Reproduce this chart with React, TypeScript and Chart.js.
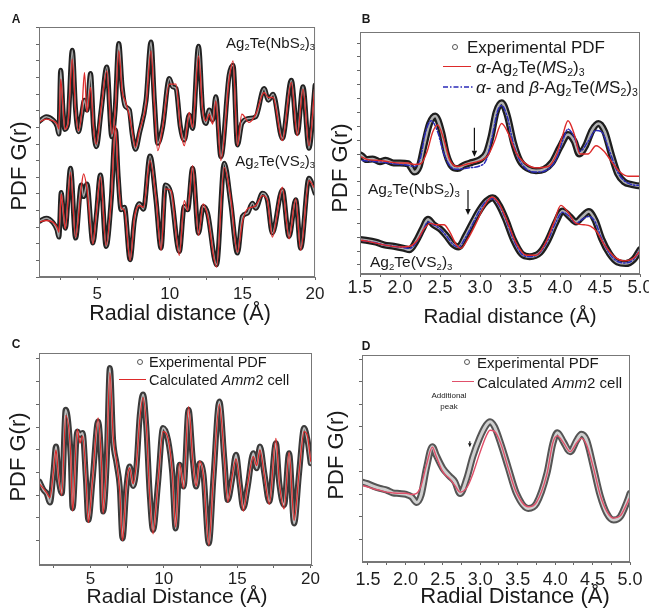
import React, { useEffect, useRef } from "react";
import { Chart, registerables } from "chart.js";

Chart.register(...registerables);

const FONT = '"Liberation Sans", Arial, Helvetica, sans-serif';
Chart.defaults.font.family = FONT;

// ---------------- Panel A (r in Å, G(r) in tick units) ----------------
const aTopR = [1.00, 1.50, 1.96, 2.24, 2.37, 2.49, 2.65, 2.78, 2.99, 3.29, 3.52, 3.72, 3.95, 4.13, 4.30, 4.55, 4.75, 4.94, 5.28, 5.67, 6.01, 6.24, 6.49, 6.72, 6.93, 7.22, 7.41, 7.64, 7.91, 8.37, 8.71, 8.94, 9.17, 9.51, 9.97, 10.20, 10.43, 10.73, 11.00, 11.34, 11.57, 11.98, 12.26, 12.49, 12.72, 12.95, 13.17, 13.52, 14.09, 14.36, 14.66, 14.96, 15.46, 15.92, 16.49, 16.79, 17.11, 17.75, 18.37, 18.78, 19.17, 19.58, 20.00];
const aTopExp = [9.34, 9.64, 9.44, 9.08, 8.60, 12.44, 10.04, 8.88, 9.24, 13.64, 10.04, 8.74, 9.84, 10.64, 10.04, 12.24, 9.04, 7.84, 10.04, 12.64, 8.44, 10.04, 14.04, 11.44, 10.28, 10.04, 8.64, 7.68, 8.64, 10.64, 14.14, 10.64, 8.04, 9.04, 11.94, 11.44, 11.34, 9.04, 8.24, 9.74, 8.94, 13.88, 10.04, 9.24, 10.04, 9.44, 10.84, 7.24, 12.14, 12.74, 7.94, 9.24, 9.54, 9.64, 11.34, 10.64, 11.00, 8.34, 11.84, 8.64, 11.44, 7.74, 11.54];
const aTopCalc = [9.3, 9.5, 9.4, 9.2, 8.9, 11.9, 10.3, 8.9, 9.2, 13.1, 10.0, 8.8, 10.0, 12.3, 9.9, 11.4, 9.0, 8.0, 10.2, 12.4, 8.6, 10.0, 13.6, 11.2, 10.6, 9.7, 8.8, 7.8, 8.8, 10.4, 13.6, 10.4, 7.6, 9.0, 11.6, 11.6, 11.6, 9.0, 7.9, 9.9, 9.0, 13.3, 10.1, 9.4, 9.8, 9.2, 10.6, 7.0, 11.9, 13.0, 7.9, 9.8, 9.3, 9.8, 11.1, 10.8, 10.8, 8.2, 11.7, 8.5, 11.3, 7.9, 11.6];

const aBotR = [1.00, 1.50, 1.96, 2.24, 2.37, 2.53, 2.67, 2.81, 3.17, 3.52, 3.91, 4.07, 4.30, 4.71, 4.94, 5.23, 5.62, 5.97, 6.26, 6.45, 6.65, 6.88, 7.27, 7.57, 7.91, 8.19, 8.64, 9.05, 9.40, 9.70, 10.08, 10.66, 11.00, 11.23, 11.57, 11.98, 12.30, 12.60, 13.22, 13.75, 14.20, 14.66, 15.00, 15.35, 15.69, 15.92, 16.38, 16.72, 17.06, 17.75, 18.21, 18.67, 19.01, 19.58, 20.00];
const aBotExp = [3.34, 3.54, 3.28, 2.84, 2.40, 5.08, 3.84, 2.94, 6.54, 2.34, 5.54, 4.84, 5.60, 2.04, 3.64, 6.14, 1.84, 4.64, 8.84, 6.04, 4.04, 4.20, 1.04, 3.44, 4.40, 4.08, 7.28, 4.64, 1.74, 5.54, 5.04, 1.54, 4.24, 4.04, 6.54, 2.64, 4.24, 3.84, 0.74, 6.84, 4.44, 1.44, 3.64, 3.84, 4.44, 4.14, 5.04, 4.64, 2.64, 5.24, 2.44, 4.64, 1.74, 5.94, 5.04];
const aBotCalc = [3.3, 3.4, 3.3, 3.0, 2.7, 5.0, 4.0, 2.9, 6.3, 2.4, 5.4, 6.2, 5.3, 2.0, 3.8, 6.0, 1.9, 4.7, 9.1, 6.2, 4.2, 4.0, 1.0, 3.6, 4.3, 4.2, 7.0, 4.8, 1.6, 5.3, 5.2, 1.3, 4.6, 4.0, 6.7, 2.5, 4.4, 3.7, 0.6, 6.6, 4.7, 1.5, 3.3, 4.1, 4.2, 4.3, 4.9, 4.6, 2.4, 5.4, 2.3, 4.7, 1.6, 5.8, 5.3];

const aXTicks = [2.5, 5, 7.5, 10, 12.5, 15, 17.5, 20];
const aXLabels = ["", "5", "", "10", "", "15", "", "20"];
const aYTicks = [0, 1, 2, 3, 4, 5, 6, 7, 8, 9, 10, 11, 12, 13, 14, 15];

// ---------------- Panel B ----------------
const bTopR = [1.40, 1.50, 1.58, 1.66, 1.75, 1.82, 1.92, 2.00, 2.10, 2.18, 2.24, 2.30, 2.37, 2.44, 2.52, 2.58, 2.65, 2.72, 2.80, 2.90, 3.00, 3.08, 3.14, 3.20, 3.27, 3.34, 3.42, 3.50, 3.60, 3.70, 3.80, 3.90, 4.00, 4.10, 4.18, 4.24, 4.32, 4.40, 4.48, 4.56, 4.64, 4.72, 4.80, 4.90, 5.00, 5.05];
const bTopExp = [7.8, 7.95, 7.6, 7.65, 7.45, 7.55, 7.35, 7.35, 7.3, 6.7, 7.1, 8.6, 10.2, 10.75, 9.6, 8.0, 7.1, 6.95, 7.2, 7.4, 7.6, 8.1, 9.3, 11.0, 11.7, 10.8, 8.8, 7.5, 6.95, 6.8, 6.9, 7.4, 8.5, 9.4, 8.9, 8.0, 8.6, 9.7, 10.2, 9.6, 8.0, 6.6, 6.0, 5.8, 5.7, 5.7];
const bTopCalcR = [1.40, 1.50, 1.60, 1.70, 1.80, 1.90, 2.00, 2.10, 2.18, 2.26, 2.34, 2.41, 2.47, 2.54, 2.62, 2.72, 2.85, 3.00, 3.10, 3.18, 3.27, 3.36, 3.45, 3.55, 3.70, 3.85, 3.95, 4.03, 4.10, 4.18, 4.25, 4.35, 4.45, 4.55, 4.65, 4.75, 4.85, 5.05];
const bTopCalc = [7.7, 7.8, 7.6, 7.55, 7.5, 7.4, 7.35, 7.35, 7.25, 7.3, 8.2, 9.6, 10.1, 9.2, 7.6, 7.1, 7.3, 7.5, 7.9, 8.9, 10.2, 9.4, 8.1, 7.4, 7.0, 7.1, 7.9, 9.3, 10.4, 9.4, 8.0, 8.0, 8.6, 8.2, 7.4, 6.7, 6.4, 6.4];
const bTopBothR = [1.40, 1.60, 1.80, 2.00, 2.10, 2.18, 2.25, 2.32, 2.39, 2.47, 2.55, 2.65, 2.72, 2.85, 3.00, 3.08, 3.15, 3.22, 3.27, 3.34, 3.42, 3.52, 3.70, 3.85, 3.95, 4.03, 4.10, 4.18, 4.25, 4.35, 4.45, 4.52, 4.62, 4.72, 4.85, 5.05];
const bTopBoth = [7.6, 7.5, 7.4, 7.25, 7.2, 7.1, 7.6, 9.6, 10.4, 9.6, 8.0, 7.0, 6.9, 7.0, 7.15, 7.6, 9.2, 11.1, 11.5, 10.7, 8.7, 7.3, 6.7, 6.9, 7.6, 8.9, 9.8, 9.2, 8.2, 8.9, 9.7, 9.6, 8.2, 6.7, 5.9, 5.7];

const bBotR = [1.40, 1.55, 1.70, 1.80, 1.92, 2.05, 2.12, 2.20, 2.28, 2.35, 2.42, 2.50, 2.58, 2.66, 2.73, 2.82, 2.92, 3.00, 3.08, 3.16, 3.24, 3.32, 3.42, 3.52, 3.62, 3.75, 3.85, 3.95, 4.03, 4.12, 4.20, 4.28, 4.36, 4.44, 4.52, 4.62, 4.72, 4.82, 4.92, 5.00, 5.05];
const bBotExp = [1.9, 1.8, 1.65, 1.45, 1.35, 1.2, 1.1, 1.7, 2.6, 3.3, 2.9, 2.6, 2.1, 1.5, 1.3, 2.1, 3.2, 4.0, 4.6, 4.85, 4.3, 3.3, 1.8, 0.8, 0.6, 0.9, 1.8, 3.1, 3.9, 3.5, 3.1, 3.5, 3.85, 3.2, 1.9, 0.8, 0.2, 0.1, 0.4, 1.1, 1.5];
const bBotBoth = [1.85, 1.75, 1.6, 1.45, 1.35, 1.25, 1.2, 1.6, 2.4, 3.1, 2.9, 2.6, 2.1, 1.5, 1.3, 2.0, 3.1, 4.0, 4.6, 4.8, 4.3, 3.3, 1.8, 0.8, 0.6, 0.9, 1.8, 3.1, 3.8, 3.5, 3.0, 3.3, 3.5, 3.1, 1.9, 0.8, 0.25, 0.15, 0.4, 1.1, 1.5];
const bBotCalcR = [1.40, 1.60, 1.80, 2.00, 2.12, 2.22, 2.30, 2.38, 2.46, 2.55, 2.62, 2.70, 2.76, 2.85, 2.95, 3.05, 3.15, 3.24, 3.35, 3.45, 3.58, 3.70, 3.82, 3.92, 4.01, 4.10, 4.20, 4.30, 4.38, 4.46, 4.55, 4.68, 4.80, 4.92, 5.05];
const bBotCalc = [1.85, 1.7, 1.45, 1.3, 1.35, 1.8, 2.6, 3.0, 2.9, 2.9, 2.4, 1.5, 1.2, 1.9, 3.0, 4.2, 4.9, 4.4, 3.0, 1.6, 0.7, 0.7, 1.6, 3.0, 4.3, 3.8, 3.0, 2.9, 2.8, 2.4, 1.5, 0.6, 0.3, 0.5, 1.4];

const bArrowR = [2.93, 2.85];
const bArrowFrom = [9.9, 5.4];
const bArrowTo = [7.8, 3.6];

const fineXTicks = [1.5, 1.75, 2.0, 2.25, 2.5, 2.75, 3.0, 3.25, 3.5, 3.75, 4.0, 4.25, 4.5, 4.75, 5.0];
const fineXLabels = ["1.5", "", "2.0", "", "2.5", "", "3.0", "", "3.5", "", "4.0", "", "4.5", "", "5.0"];
const bYTicks = [0, 1, 2, 3, 4, 5, 6, 7, 8, 9, 10, 11, 12, 13, 14, 15, 16];

// ---------------- Panel C ----------------
const cR = [1.53, 1.80, 2.03, 2.25, 2.48, 2.66, 2.82, 3.05, 3.32, 3.66, 3.79, 4.11, 4.29, 4.47, 4.70, 4.86, 5.15, 5.53, 5.76, 5.87, 6.10, 6.33, 6.55, 6.78, 7.00, 7.19, 7.46, 7.68, 7.91, 8.14, 8.36, 8.59, 8.81, 9.04, 9.27, 9.61, 9.95, 10.29, 10.58, 10.81, 11.08, 11.35, 11.69, 11.98, 12.21, 12.44, 12.71, 13.07, 13.39, 13.79, 14.13, 14.36, 14.65, 14.92, 15.20, 15.42, 15.72, 16.10, 16.33, 16.55, 16.85, 17.19, 17.64, 17.87, 18.20, 18.54, 18.88, 19.22, 19.56, 19.79, 20.01];
const cExp = [2.60, 2.24, 2.06, 1.68, 2.97, 4.15, 2.85, 2.09, 5.76, 3.71, 1.43, 4.81, 4.66, 4.74, 2.68, 0.91, 2.68, 5.25, 3.26, 1.28, 3.26, 7.60, 4.44, 3.41, 2.38, 0.10, 2.38, 3.26, 2.41, 3.26, 5.47, 6.43, 5.03, 2.09, 0.47, 2.53, 4.96, 4.44, 2.97, 0.54, 3.34, 2.38, 5.76, 3.56, 2.38, 3.41, 2.90, -0.12, 2.82, 6.13, 3.56, 1.79, 2.68, 3.78, 2.38, 1.43, 2.38, 3.85, 3.19, 4.15, 2.97, 1.72, 4.29, 2.53, 1.57, 3.85, 0.76, 2.97, 4.96, 4.44, 3.41];
const cCalc = [2.5, 2.3, 2.1, 1.9, 3.0, 4.0, 2.9, 2.0, 5.5, 3.8, 1.3, 4.9, 4.3, 4.6, 2.8, 0.8, 2.7, 5.4, 3.3, 1.2, 3.4, 7.4, 4.6, 3.5, 2.2, 0.0, 2.5, 3.2, 2.5, 3.4, 5.3, 6.3, 5.1, 2.0, 0.3, 2.6, 4.8, 4.5, 3.0, 0.6, 3.4, 2.3, 5.9, 3.5, 2.4, 3.5, 2.8, -0.2, 2.9, 6.0, 3.6, 1.7, 2.8, 3.6, 2.4, 1.3, 2.5, 3.7, 3.3, 4.0, 2.9, 1.6, 4.5, 2.6, 1.4, 3.9, 0.9, 3.0, 4.8, 4.6, 3.5];
const cXTicks = [2.5, 5, 7.5, 10, 12.5, 15, 17.5, 20];
const cXLabels = ["", "5", "", "10", "", "15", "", "20"];
const cdYTicks = [0, 1, 2, 3, 4, 5, 6, 7, 8];

// ---------------- Panel D ----------------
const dR = [1.41, 1.48, 1.57, 1.66, 1.75, 1.83, 1.92, 2.01, 2.08, 2.15, 2.21, 2.28, 2.36, 2.41, 2.50, 2.59, 2.66, 2.73, 2.82, 2.90, 2.99, 3.08, 3.13, 3.19, 3.28, 3.37, 3.48, 3.64, 3.75, 3.89, 3.97, 4.03, 4.11, 4.20, 4.29, 4.35, 4.42, 4.51, 4.60, 4.69, 4.78, 4.87, 4.96, 5.00];
const dExp = [2.56, 2.49, 2.37, 2.27, 2.19, 2.07, 2.04, 2.0, 1.90, 1.64, 1.97, 3.16, 4.12, 3.75, 3.16, 2.81, 2.56, 2.04, 2.71, 3.67, 4.49, 5.08, 5.23, 5.01, 4.19, 3.23, 2.07, 1.38, 1.60, 2.93, 4.27, 4.74, 4.34, 3.90, 4.41, 4.67, 4.41, 3.23, 1.97, 1.16, 0.86, 1.01, 1.67, 2.04];
const dCalc = [2.4, 2.35, 2.25, 2.18, 2.1, 2.07, 2.05, 2.05, 2.0, 2.05, 2.4, 3.3, 4.1, 3.7, 3.0, 2.7, 2.4, 2.1, 2.3, 2.9, 3.8, 4.6, 4.85, 4.8, 4.2, 3.2, 2.1, 1.45, 1.65, 2.9, 4.3, 4.6, 4.3, 3.9, 4.3, 4.5, 4.2, 3.2, 2.0, 1.25, 0.95, 1.05, 1.6, 1.9];
const dArrowR = [2.86];
const dArrowFrom = [4.36];
const dArrowTo = [4.1];

// ---------------------------------------------------------------------
const zip = (r: number[], g: number[]) => r.map((x, i) => ({ x, y: g[i] }));

function expBand(r: number[], g: number[], dark: string, light: string, wDark: number, wLight: number) {
  return [
    { data: zip(r, g), borderColor: dark, borderWidth: wDark, order: 5 },
    { data: zip(r, g), borderColor: light, borderWidth: wLight, order: 4 },
  ];
}

function framePlugin(color: string) {
  return {
    id: "frame",
    afterDraw(chart: any) {
      const { ctx, chartArea } = chart;
      ctx.save();
      ctx.strokeStyle = color;
      ctx.lineWidth = 1;
      ctx.strokeRect(chartArea.left + 0.5, chartArea.top + 0.5, chartArea.right - chartArea.left - 1, chartArea.bottom - chartArea.top - 1);
      ctx.restore();
    },
  };
}

function arrowPlugin(xs: number[], from: number[], to: number[], head: number) {
  return {
    id: "arrows",
    afterDraw(chart: any) {
      const { ctx, scales } = chart;
      xs.forEach((xv, i) => {
        const x = scales.x.getPixelForValue(xv);
        const y1 = scales.y.getPixelForValue(from[i]);
        const y2 = scales.y.getPixelForValue(to[i]);
        ctx.save();
        ctx.strokeStyle = "#111";
        ctx.fillStyle = "#111";
        ctx.lineWidth = 1.2;
        ctx.beginPath();
        ctx.moveTo(x, y1);
        ctx.lineTo(x, y2 - head);
        ctx.stroke();
        ctx.beginPath();
        ctx.moveTo(x - head * 0.45, y2 - head);
        ctx.lineTo(x + head * 0.45, y2 - head);
        ctx.lineTo(x, y2);
        ctx.closePath();
        ctx.fill();
        ctx.restore();
      });
    },
  };
}

type Spec = {
  datasets: any[];
  xMin: number; xMax: number; xTicks: number[]; xLabels: string[];
  yMin: number; yMax: number; yTicks: number[];
  padding: { top: number; right: number; left: number; bottom: number };
  yWidth: number; xHeight: number; tickSize: number; tickPad: number;
  plugins: any[];
};

function makeConfig(s: Spec): any {
  return {
    type: "line",
    data: { datasets: s.datasets },
    options: {
      responsive: false,
      animation: false,
      devicePixelRatio: 1,
      events: [],
      layout: { padding: s.padding },
      plugins: { legend: { display: false }, tooltip: { enabled: false } },
      elements: {
        point: { radius: 0 },
        line: { cubicInterpolationMode: "monotone", borderJoinStyle: "round", borderCapStyle: "round", fill: false },
      },
      scales: {
        x: {
          type: "linear",
          min: s.xMin,
          max: s.xMax,
          afterBuildTicks: (sc: any) => { sc.ticks = s.xTicks.map((value) => ({ value })); },
          afterFit: (sc: any) => { sc.height = s.xHeight; },
          ticks: {
            autoSkip: false,
            maxRotation: 0,
            padding: s.tickPad,
            color: "#1e1e1e",
            font: { family: FONT, size: s.tickSize, lineHeight: 1 },
            callback: (v: number) => { const i = s.xTicks.indexOf(v); return i >= 0 ? s.xLabels[i] : ""; },
          },
          grid: { drawOnChartArea: false, drawTicks: true, tickLength: 3, color: "#666" },
          border: { display: true, color: "#777", width: 1 },
        },
        y: {
          type: "linear",
          min: s.yMin,
          max: s.yMax,
          afterBuildTicks: (sc: any) => { sc.ticks = s.yTicks.map((value) => ({ value })); },
          afterFit: (sc: any) => { sc.width = s.yWidth; },
          ticks: { padding: 0, font: { size: 6, lineHeight: 1 }, callback: () => "" },
          grid: { drawOnChartArea: false, drawTicks: true, tickLength: 3, color: "#666" },
          border: { display: true, color: "#777", width: 1 },
        },
      },
    },
    plugins: s.plugins,
  };
}

function Panel({ left, top, width, height, spec }: { left: number; top: number; width: number; height: number; spec: () => Spec }) {
  const ref = useRef<HTMLCanvasElement>(null);
  useEffect(() => {
    const chart = new Chart(ref.current as HTMLCanvasElement, makeConfig(spec()));
    return () => chart.destroy();
  }, []);
  return (
    <canvas
      ref={ref}
      width={width}
      height={height}
      style={{ position: "absolute", left, top, width, height }}
    />
  );
}

const RED = "#dd2a2a";

const specA = (): Spec => ({
  datasets: [
    ...expBand(aTopR, aTopExp, "#222", "#a6a6a6", 5, 1.5),
    ...expBand(aBotR, aBotExp, "#222", "#a6a6a6", 5, 1.5),
    { data: zip(aTopR, aTopCalc), borderColor: RED, borderWidth: 1.3, order: 1 },
    { data: zip(aBotR, aBotCalc), borderColor: RED, borderWidth: 1.3, order: 1 },
  ],
  xMin: 1.0, xMax: 20.0, xTicks: aXTicks, xLabels: aXLabels,
  yMin: 0, yMax: 15.04, yTicks: aYTicks,
  padding: { top: 27, right: 14, left: 0, bottom: 0 },
  yWidth: 39, xHeight: 33, tickSize: 17, tickPad: 5.5,
  plugins: [framePlugin("#777")],
});

const specB = (): Spec => ({
  datasets: [
    ...expBand(bTopR, bTopExp, "#1e1e1e", "#b0b0b0", 7, 2.5),
    ...expBand(bBotR, bBotExp, "#1e1e1e", "#b0b0b0", 7, 2.5),
    { data: zip(bTopBothR, bTopBoth), borderColor: "#2a2ab8", borderWidth: 1.5, borderDash: [5, 2, 1.5, 2], order: 2 },
    { data: zip(bBotR, bBotBoth), borderColor: "#2a2ab8", borderWidth: 1.5, borderDash: [5, 2, 1.5, 2], order: 2 },
    { data: zip(bTopCalcR, bTopCalc), borderColor: RED, borderWidth: 1.4, order: 1 },
    { data: zip(bBotCalcR, bBotCalc), borderColor: RED, borderWidth: 1.4, order: 1 },
  ],
  xMin: 1.5, xMax: 5.0, xTicks: fineXTicks, xLabels: fineXLabels,
  yMin: -0.65, yMax: 16.8, yTicks: bYTicks,
  padding: { top: 32, right: 20, left: 0, bottom: 0 },
  yWidth: 39, xHeight: 36, tickSize: 18, tickPad: 2,
  plugins: [framePlugin("#777"), arrowPlugin(bArrowR, bArrowFrom, bArrowTo, 6)],
});

const specC = (): Spec => ({
  datasets: [
    ...expBand(cR, cExp, "#3a3a3a", "#bdbdbd", 6, 2),
    { data: zip(cR, cCalc), borderColor: RED, borderWidth: 1.3, order: 1 },
  ],
  xMin: 1.5, xMax: 20.1, xTicks: cXTicks, xLabels: cXLabels,
  yMin: -1.07, yMax: 8.26, yTicks: cdYTicks,
  padding: { top: 23, right: 18, left: 0, bottom: 0 },
  yWidth: 39, xHeight: 37, tickSize: 17, tickPad: 2.5,
  plugins: [framePlugin("#777")],
});

const specD = (): Spec => ({
  datasets: [
    ...expBand(dR, dExp, "#555", "#cfcfcf", 7, 3),
    { data: zip(dR, dCalc), borderColor: "#e0506a", borderWidth: 1.4, order: 1 },
  ],
  xMin: 1.42, xMax: 5.0, xTicks: fineXTicks, xLabels: fineXLabels,
  yMin: -1.0, yMax: 8.19, yTicks: cdYTicks,
  padding: { top: 25, right: 19, left: 0, bottom: 0 },
  yWidth: 41, xHeight: 40, tickSize: 18, tickPad: 6,
  plugins: [framePlugin("#777"), arrowPlugin(dArrowR, dArrowFrom, dArrowTo, 4)],
});

const Sub = ({ children }: { children: any }) => (
  <sub style={{ fontSize: "0.62em", verticalAlign: "-0.3em", lineHeight: 0 }}>{children}</sub>
);

function T({ x, y, size, anchor = "center", rotate = false, bold = false, children }: any) {
  const tx = anchor === "center" ? "-50%" : anchor === "right" ? "-100%" : "0";
  return (
    <div
      style={{
        position: "absolute",
        left: x,
        top: y,
        transform: `translate(${tx},-50%)${rotate ? " rotate(-90deg)" : ""}`,
        fontSize: size,
        fontWeight: bold ? 700 : 400,
        whiteSpace: "nowrap",
        lineHeight: 1,
        color: "#1a1a1a",
        fontFamily: FONT,
      }}
    >
      {children}
    </div>
  );
}

const Circ = ({ x, y }: { x: number; y: number }) => (
  <div style={{ position: "absolute", left: x - 3, top: y - 3, width: 6, height: 6, borderRadius: "50%", border: "1.2px solid #555", boxSizing: "border-box" }} />
);
const HLine = ({ x, y, w, color }: { x: number; y: number; w: number; color: string }) => (
  <div style={{ position: "absolute", left: x, top: y - 0.75, width: w, height: 0, borderTop: `1.5px solid ${color}` }} />
);

export default function App() {
  return (
    <div style={{ position: "absolute", left: 0, top: 0, width: 649, height: 608, overflow: "hidden", background: "#fff", fontFamily: FONT }}>
      <Panel left={0} top={0} width={330} height={310} spec={specA} />
      <Panel left={321} top={0} width={339} height={310} spec={specB} />
      <Panel left={0} top={330} width={330} height={272} spec={specC} />
      <Panel left={321} top={330} width={328} height={272} spec={specD} />

      {/* panel letters */}
      <T x={16} y={19} size={12} bold>A</T>
      <T x={366} y={19} size={12} bold>B</T>
      <T x={16} y={344} size={12} bold>C</T>
      <T x={366} y={346} size={12} bold>D</T>

      {/* axis titles */}
      <T x={19} y={166} size={22} rotate>PDF G(r)</T>
      <T x={340} y={168} size={22} rotate>PDF G(r)</T>
      <T x={18} y={457} size={22} rotate>PDF G(r)</T>
      <T x={336} y={455} size={22} rotate>PDF G(r)</T>
      <T x={180} y={314} size={21.5}>Radial distance (Å)</T>
      <T x={510} y={316} size={20.5}>Radial distance (Å)</T>
      <T x={177} y={595} size={21}>Radial Distance (Å)</T>
      <T x={515} y={596} size={22}>Radial Distance (Å)</T>

      {/* panel A annotations */}
      <T x={315} y={42} size={15} anchor="right">Ag<Sub>2</Sub>Te(NbS<Sub>2</Sub>)<Sub>3</Sub></T>
      <T x={315} y={160} size={15} anchor="right">Ag<Sub>2</Sub>Te(VS<Sub>2</Sub>)<Sub>3</Sub></T>

      {/* panel B annotations and legend */}
      <T x={368} y={189} size={15.5} anchor="left">Ag<Sub>2</Sub>Te(NbS<Sub>2</Sub>)<Sub>3</Sub></T>
      <T x={370} y={262} size={15.5} anchor="left">Ag<Sub>2</Sub>Te(VS<Sub>2</Sub>)<Sub>3</Sub></T>
      <Circ x={455} y={47} />
      <T x={467} y={47} size={17} anchor="left">Experimental PDF</T>
      <HLine x={443} y={67} w={28} color={RED} />
      <T x={476} y={67} size={17} anchor="left"><i>α</i>-Ag<Sub>2</Sub>Te(<i>M</i>S<Sub>2</Sub>)<Sub>3</Sub></T>
      <svg style={{ position: "absolute", left: 443, top: 83 }} width={30} height={8}>
        <line x1={0} y1={4} x2={30} y2={4} stroke="#2a2ab8" strokeWidth={1.6} strokeDasharray="5 2 1.5 2" />
      </svg>
      <T x={476} y={87} size={17} anchor="left"><i>α</i>- and <i>β</i>-Ag<Sub>2</Sub>Te(<i>M</i>S<Sub>2</Sub>)<Sub>3</Sub></T>

      {/* panel C legend */}
      <Circ x={140} y={362} />
      <T x={149} y={362} size={14.5} anchor="left">Experimental PDF</T>
      <HLine x={119} y={380} w={27} color={RED} />
      <T x={149} y={380} size={14.5} anchor="left">Calculated <i>Amm</i>2 cell</T>

      {/* panel D legend and note */}
      <Circ x={467} y={362} />
      <T x={477} y={362} size={15} anchor="left">Experimental PDF</T>
      <HLine x={452} y={382} w={22} color="#e0506a" />
      <T x={477} y={382} size={15} anchor="left">Calculated <i>Amm</i>2 cell</T>
      <T x={449} y={396} size={8}>Additional</T>
      <T x={449} y={407} size={8}>peak</T>
    </div>
  );
}
